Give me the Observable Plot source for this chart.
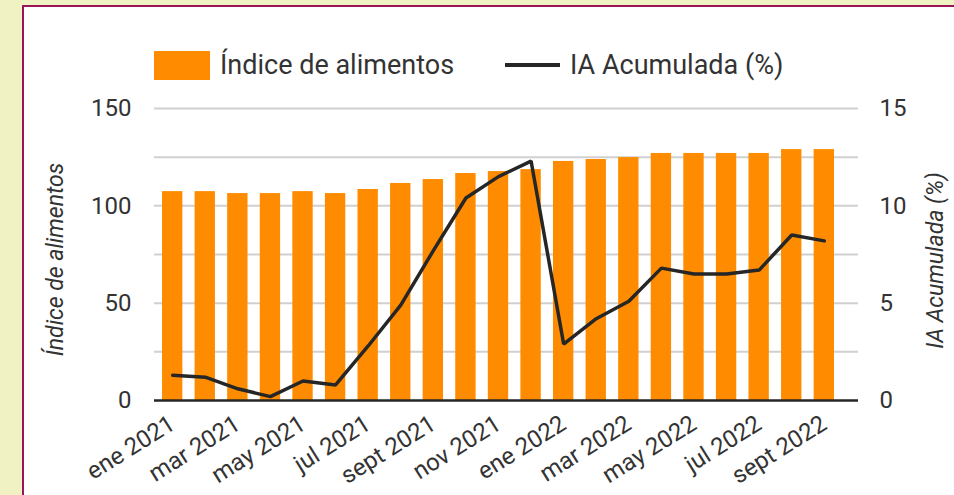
<!DOCTYPE html>
<html>
<head>
<meta charset="utf-8">
<script src="https://cdn.jsdelivr.net/npm/d3@7"></script>
<script src="https://cdn.jsdelivr.net/npm/@observablehq/plot@0.6"></script>
<style>
  html, body { margin: 0; padding: 0; background: #f0f2c4; }
  #wrap { position: relative; width: 954px; height: 495px; overflow: hidden; font-family: Roboto, sans-serif; }
  #panel { position: absolute; left: 22px; top: 5px; width: 960px; height: 520px; background: #fff; border: 2px solid #9c1458; }
  #chart { position: absolute; left: 0; top: 0; }
  .leg { position: absolute; top: 49px; height: 32px; font-size: 27px; color: #333; white-space: nowrap; display: flex; align-items: center; }
  .sw { display: inline-block; width: 56px; height: 29px; background: #ff8c00; margin-right: 10px; }
  .ln { display: inline-block; width: 55px; height: 4px; background: #262626; margin-right: 10px; }
</style>
</head>
<body>
<div id="wrap">
  <div id="panel"></div>
  <div id="chart"></div>
  <div class="leg" style="left:154px"><span class="sw"></span>Índice de alimentos</div>
  <div class="leg" style="left:505px"><span class="ln"></span>IA Acumulada (%)</div>
</div>
<script>
const months = ["ene 2021","feb 2021","mar 2021","abr 2021","may 2021","jun 2021","jul 2021","ago 2021","sept 2021","oct 2021","nov 2021","dic 2021",
                "ene 2022","feb 2022","mar 2022","abr 2022","may 2022","jun 2022","jul 2022","ago 2022","sept 2022"];
const indice = [107.3,107.3,106.3,106.3,107.3,106.3,108.4,111.5,113.5,116.6,117.6,118.6,122.8,123.8,124.8,126.9,126.9,126.9,126.9,128.9,128.9];
const acumulada = [1.3,1.2,0.6,0.2,1.0,0.8,2.8,4.9,7.7,10.4,11.5,12.3,2.9,4.2,5.1,6.8,6.5,6.5,6.7,8.5,8.2];
const leftTicks = [0,50,100,150];
const gridTicks = [25,50,75,100,125,150];
const xTickLabels = ["ene 2021","mar 2021","may 2021","jul 2021","sept 2021","nov 2021","ene 2022","mar 2022","may 2022","jul 2022","sept 2022"];

const data = months.map((m, i) => ({mes: m, indice: indice[i], acum: acumulada[i]}));
const ratio = 10; // 150 on left == 15 on right

const chart = Plot.plot({
  width: 954,
  height: 495,
  marginLeft: 154,
  marginRight: 96,
  marginTop: 108,
  marginBottom: 95,
  style: {fontFamily: "Roboto, sans-serif", fontSize: "24px", color: "#333", background: "transparent", overflow: "visible"},
  x: {type: "band", domain: months, range: [162, 834], paddingInner: 0.375, paddingOuter: 0, align: 0.5, round: false},
  y: {domain: [0, 150]},
  marks: [
    Plot.ruleY(gridTicks, {stroke: "#d0d0d0", strokeWidth: 2}),
    Plot.barY(data, {x: "mes", y: "indice", fill: "#ff8c00"}),
    Plot.ruleY([0], {stroke: "#262626", strokeWidth: 2.5}),
    Plot.line(data, {x: "mes", y: d => d.acum * ratio, stroke: "#262626", strokeWidth: 3.5, strokeLinejoin: "miter"}),
    Plot.axisY({anchor: "left", ticks: leftTicks, tickSize: 0, tickPadding: 23, label: null, fontSize: 24}),
    Plot.axisY({anchor: "right", ticks: leftTicks, tickSize: 0, tickPadding: 21, tickFormat: d => d / ratio, label: null, fontSize: 24}),
    Plot.axisX({ticks: xTickLabels, tickSize: 0, tickPadding: 21, tickRotate: -32, label: null, fontSize: 24}),
    Plot.text(["Índice de alimentos"], {frameAnchor: "left", textAnchor: "middle", dx: -99, dy: 5, rotate: -90, fontSize: 23, fontStyle: "italic", fill: "#333"}),
    Plot.text(["IA Acumulada (%)"], {frameAnchor: "right", textAnchor: "middle", dx: 77, dy: 6, rotate: -90, fontSize: 23, fontStyle: "italic", fill: "#333"})
  ]
});
document.getElementById("chart").appendChild(chart);
</script>
</body>
</html>
